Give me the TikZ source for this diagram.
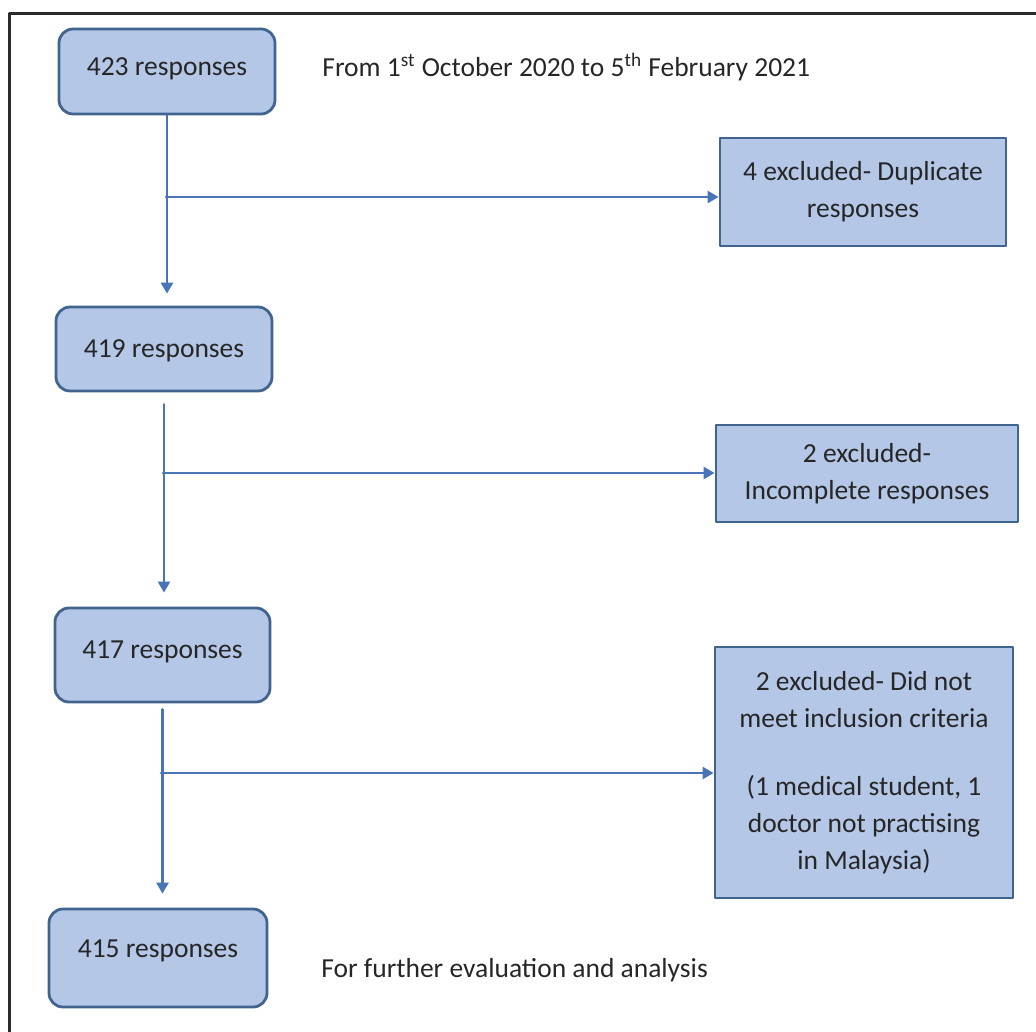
\documentclass[tikz,border=0pt]{standalone}
\usepackage{fontspec}
\setmainfont{Carlito}
\usepackage{tikz}
\usepackage{xcolor}
\usetikzlibrary{arrows.meta,calc}

\definecolor{boxfill}{HTML}{B4C7E7}
\definecolor{boxline}{HTML}{41648F}
\definecolor{flowline}{HTML}{4A74B8}
\definecolor{textgray}{HTML}{262626}
\definecolor{framegray}{HTML}{2B2B2B}

\begin{document}
\begin{tikzpicture}[line cap=round,line join=round,x=0.5pt,y=-0.5pt,
        font=\fontsize{13.75}{18.5}\selectfont,
        rbox/.style={draw=boxline,fill=boxfill,line width=1.4pt,rounded corners=7pt,text=textgray,inner sep=0pt,text height=10pt},
        xbox/.style={draw=boxline,fill=boxfill,line width=1.4pt,text=textgray,align=center,inner sep=0pt},
        flow/.style={draw=flowline,line width=1.3pt,-{Triangle[length=5.5pt,width=6pt]}},
        note/.style={text=textgray,anchor=base west,inner sep=0pt}]
    \useasboundingbox (0,0) rectangle (1036,1031);
    % outer frame
    \draw [framegray,line width=1.5pt] (9,1045) -- (9,14) -- (1050,14);
    % main column
    \node [rbox,text depth=6.3pt,minimum width=108pt,minimum height=42.5pt] (b1) at (167,71.5) {423 responses};
    \node [rbox,text depth=1.8pt,minimum width=108pt,minimum height=42pt] (b2) at (164,349) {419 responses};
    \node [rbox,text depth=6.8pt,minimum width=107.5pt,minimum height=47pt] (b3) at (162.5,655) {417 responses};
    \node [rbox,text depth=10.8pt,minimum width=109pt,minimum height=49pt] (b4) at (158,958) {415 responses};
    % excluded
    \node [xbox,minimum width=143pt,minimum height=54pt] (e1) at (863,192) {4 excluded- Duplicate\\responses};
    \node [xbox,minimum width=151pt,minimum height=48.5pt] (e2) at (867,473.5) {2 excluded-\\Incomplete responses};
    \node [xbox,minimum width=149pt,minimum height=125.5pt] (e3) at (864,772.5) {2 excluded- Did not\\meet inclusion criteria\\[15.5pt]
        (1 medical student, 1\\doctor not practising\\in Malaysia)};
    % side notes
    \node [note] (period) at (322,77) {From 1\textsuperscript{st} October 2020 to 5\textsuperscript{th} February 2021};
    \node [note] (final) at (321,977) {For further evaluation and analysis};
    % arrows
    \draw [flow,shorten >=6pt] (b1.south) -- (b1.south |- b2.north);
    \draw [flow,shorten <=6pt,shorten >=7pt] (b2.south) -- (b2.south |- b3.north);
    \draw [flow,shorten <=3pt,shorten >=7pt] (b3.south) -- (b3.south |- b4.north);
    \coordinate (j1) at (166,197);
    \coordinate (j2) at (163,473);
    \coordinate (j3) at (161,773);
    \draw [flow] (j1) -- (j1 -| e1.west);
    \draw [flow] (j2) -- (j2 -| e2.west);
    \draw [flow] (j3) -- (j3 -| e3.west);
\end{tikzpicture}
\end{document}
